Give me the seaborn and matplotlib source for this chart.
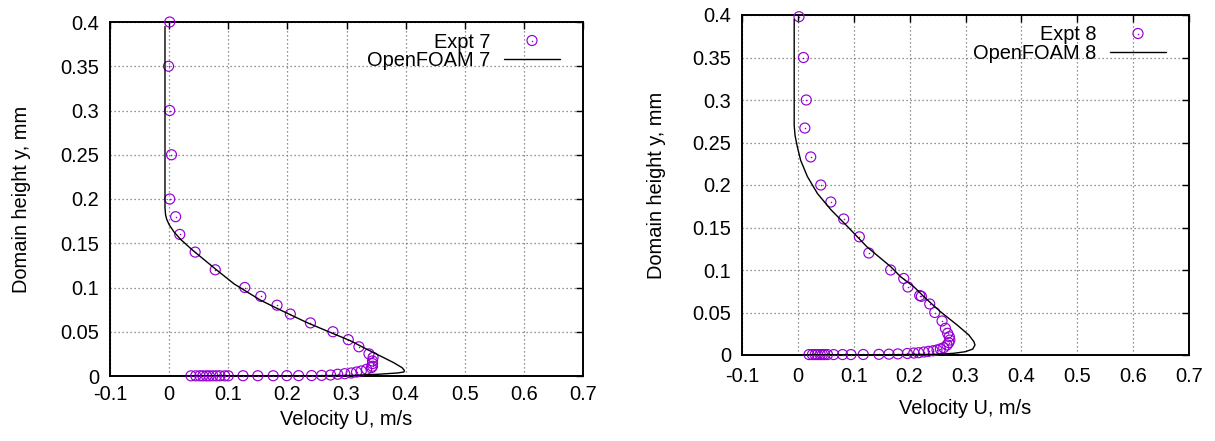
import matplotlib
matplotlib.use("Agg")
import matplotlib.pyplot as plt
from matplotlib.legend_handler import HandlerTuple
import seaborn as sns

# ---- Experiment 7: measured velocity profile (U in m/s, y in mm) ----
expt7_u = [0.037, 0.045, 0.052, 0.057, 0.063, 0.068, 0.074, 0.080, 0.086, 0.094,
           0.100, 0.125, 0.150, 0.176, 0.199, 0.219, 0.241, 0.258, 0.273, 0.285,
           0.297, 0.308, 0.317, 0.325, 0.334, 0.342, 0.344, 0.344, 0.344, 0.345,
           0.338, 0.321, 0.303, 0.277, 0.239, 0.205, 0.1825, 0.155, 0.128, 0.078,
           0.044, 0.018, 0.011, 0.001, 0.004, 0.001, -0.001, 0.001]
expt7_y = [0.0002, 0.0002, 0.0002, 0.0002, 0.0002, 0.0002, 0.0002, 0.0002, 0.0002, 0.0002,
           0.0002, 0.0003, 0.0003, 0.0003, 0.0004, 0.0004, 0.0005, 0.0007, 0.0011, 0.0020,
           0.0026, 0.0034, 0.0045, 0.0057, 0.0076, 0.0094, 0.011, 0.014, 0.017, 0.021,
           0.025, 0.033, 0.041, 0.050, 0.060, 0.070, 0.080, 0.090, 0.100, 0.120,
           0.140, 0.160, 0.180, 0.200, 0.250, 0.300, 0.350, 0.400]

# ---- OpenFOAM 7: simulated profile ----
foam7_u = [-0.007, -0.007, -0.006, -0.004, 0.000, 0.008, 0.020, 0.040, 0.060, 0.080,
           0.110, 0.155, 0.190, 0.233, 0.270, 0.307, 0.335, 0.363, 0.380, 0.394,
           0.398, 0.397, 0.386, 0.352, 0.307, 0.200, 0.000]
foam7_y = [0.395, 0.190, 0.182, 0.177, 0.171, 0.163, 0.154, 0.142, 0.131, 0.120,
           0.104, 0.0855, 0.074, 0.0604, 0.050, 0.0397, 0.030, 0.0207, 0.015, 0.0094,
           0.0062, 0.0045, 0.0034, 0.0019, 0.0006, 0.0002, 0.0]

# ---- Experiment 8: measured velocity profile ----
expt8_u = [0.020, 0.026, 0.031, 0.035, 0.040, 0.044, 0.048, 0.053, 0.064, 0.080,
           0.095, 0.117, 0.145, 0.163, 0.179, 0.196, 0.2075, 0.216, 0.2255, 0.234,
           0.242, 0.249, 0.255, 0.261, 0.267, 0.270, 0.272, 0.271, 0.268, 0.264,
           0.258, 0.245, 0.236, 0.221, 0.218, 0.197, 0.1895, 0.166, 0.127, 0.110,
           0.082, 0.059, 0.041, 0.023, 0.0125, 0.015, 0.010, 0.002]
expt8_y = [0.0005, 0.0005, 0.0005, 0.0005, 0.0005, 0.0005, 0.0005, 0.0005, 0.0005, 0.0005,
           0.0005, 0.0006, 0.0008, 0.0010, 0.0013, 0.0018, 0.0023, 0.0027, 0.0035, 0.0043,
           0.0050, 0.0059, 0.0071, 0.0086, 0.0118, 0.0145, 0.0176, 0.0215, 0.0255, 0.0314,
           0.040, 0.050, 0.060, 0.069, 0.070, 0.080, 0.090, 0.100, 0.120, 0.139,
           0.160, 0.180, 0.200, 0.233, 0.267, 0.300, 0.350, 0.398]

# ---- OpenFOAM 8: simulated profile ----
foam8_u = [-0.0066, -0.0066, -0.005, -0.001, 0.005, 0.017, 0.035, 0.059, 0.089, 0.124,
           0.166, 0.184, 0.208, 0.2255, 0.255, 0.285, 0.306, 0.315, 0.317, 0.313,
           0.300, 0.279, 0.249, 0.150, 0.000]
foam8_y = [0.395, 0.270, 0.258, 0.245, 0.229, 0.210, 0.190, 0.171, 0.151, 0.127,
           0.104, 0.092, 0.080, 0.0686, 0.051, 0.0353, 0.0235, 0.0157, 0.0118, 0.007,
           0.0039, 0.002, 0.0008, 0.0003, 0.0]

x_ticks = [-0.1, 0.0, 0.1, 0.2, 0.3, 0.4, 0.5, 0.6, 0.7]
x_tick_labels = ["-0.1", "0", "0.1", "0.2", "0.3", "0.4", "0.5", "0.6", "0.7"]
y_ticks = [0.0, 0.05, 0.1, 0.15, 0.2, 0.25, 0.3, 0.35, 0.4]
y_tick_labels = ["0", "0.05", "0.1", "0.15", "0.2", "0.25", "0.3", "0.35", "0.4"]

PURPLE = "#9400D3"
FS = 14.4

sns.set_theme(style="white")
plt.rcParams["font.family"] = ["Liberation Sans", "DejaVu Sans"]
plt.rcParams["font.size"] = FS

fig = plt.figure(figsize=(12.15, 4.41), dpi=100)
ax_left = fig.add_axes([110 / 1215, 1 - 376 / 441, 473 / 1215, 354 / 441])
ax_right = fig.add_axes([742 / 1215, 1 - 355 / 441, 447 / 1215, 340 / 441])


def draw_panel(ax, eu, ey, fu, fy, expt_label, foam_label,
               ylab_x, xlab_y, xpad, leg_anchor):
    sns.scatterplot(x=eu, y=ey, ax=ax, marker="o", s=52, color=PURPLE,
                    facecolors="none", edgecolor=PURPLE, linewidth=0.85,
                    zorder=3, clip_on=False)
    circles = ax.collections[-1]
    sns.scatterplot(x=eu, y=ey, ax=ax, marker="o", s=1.2, color=PURPLE,
                    edgecolor=PURPLE, linewidth=0, zorder=3, clip_on=False)
    dots = ax.collections[-1]
    sns.lineplot(x=fu, y=fy, ax=ax, sort=False, estimator=None, color="black",
                 linewidth=1.0, zorder=4)
    curve = ax.lines[-1]

    ax.set_xlim(-0.1, 0.7)
    ax.set_ylim(0.0, 0.4)
    ax.set_xticks(x_ticks)
    ax.set_xticklabels(x_tick_labels)
    ax.set_yticks(y_ticks)
    ax.set_yticklabels(y_tick_labels)
    ax.grid(True, linestyle=(0, (1, 2.2)), color="#707070", linewidth=0.9)
    ax.set_axisbelow(True)
    for sp in ax.spines.values():
        sp.set_visible(True)
        sp.set_color("black")
        sp.set_linewidth(1.4)
    ax.tick_params(axis="both", direction="in", top=True, right=True,
                   length=5, width=1.0, color="black", labelsize=FS,
                   labelcolor="black")
    ax.tick_params(axis="x", pad=xpad)
    ax.tick_params(axis="y", pad=8)

    ax.set_xlabel("Velocity U, m/s", fontsize=FS, color="black")
    ax.set_ylabel("Domain height y, mm", fontsize=FS, color="black")
    ax.xaxis.set_label_coords(0.5, xlab_y)
    ax.yaxis.set_label_coords(ylab_x, 0.5)

    leg = ax.legend([(circles, dots), curve], [expt_label, foam_label],
                    handler_map={tuple: HandlerTuple(ndivide=1)},
                    loc="upper right", bbox_to_anchor=leg_anchor,
                    markerfirst=False, frameon=False, fontsize=FS,
                    handlelength=2.8, handletextpad=0.7, labelspacing=-0.04,
                    borderpad=0, borderaxespad=0, scatterpoints=1,
                    scatteryoffsets=[0.5])
    for t in leg.get_texts():
        t.set_color("black")


draw_panel(ax_left, expt7_u, expt7_y, foam7_u, foam7_y, "Expt 7", "OpenFOAM 7",
           -0.168, -0.096, 6.5, (1 - 23 / 473, 1 - 10.5 / 354))
draw_panel(ax_right, expt8_u, expt8_y, foam8_u, foam8_y, "Expt 8", "OpenFOAM 8",
           -0.170, -0.130, 8.7, (1 - 23 / 447, 1 - 10.5 / 340))

fig.savefig("out.png", dpi=100, facecolor="white")
